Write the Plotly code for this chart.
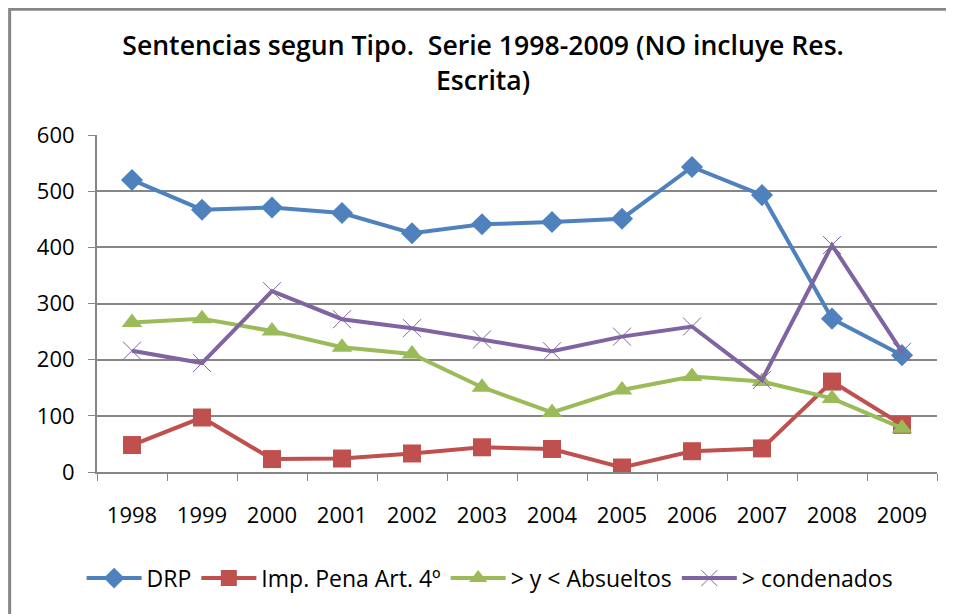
import plotly.graph_objects as go

years = ["1998", "1999", "2000", "2001", "2002", "2003", "2004", "2005", "2006", "2007", "2008", "2009"]
drp = [520, 467, 471, 461, 425, 441, 445, 451, 543, 493, 273, 208]
imp_pena = [48, 97, 23, 24, 33, 44, 41, 8, 37, 42, 161, 84]
absueltos = [266, 273, 251, 222, 210, 151, 106, 146, 170, 161, 131, 78]
condenados = [216, 194, 322, 272, 256, 236, 215, 241, 259, 164, 404, 214]

FONT = "Open Sans"
GRID = "#868686"

fig = go.Figure()
fig.add_trace(go.Scatter(x=years, y=drp, name="DRP", mode="lines+markers",
                         line=dict(color="#4F81BD", width=4),
                         marker=dict(symbol="diamond", size=17, color="#4F81BD")))
fig.add_trace(go.Scatter(x=years, y=imp_pena, name="Imp. Pena Art. 4º", mode="lines+markers",
                         line=dict(color="#C0504D", width=4),
                         marker=dict(symbol="square", size=18, color="#C0504D")))
fig.add_trace(go.Scatter(x=years, y=absueltos, name="> y < Absueltos", mode="lines+markers",
                         line=dict(color="#9BBB59", width=4),
                         marker=dict(symbol="triangle-up", size=18, color="#9BBB59")))
fig.add_trace(go.Scatter(x=years, y=condenados, name="> condenados", mode="lines+markers",
                         line=dict(color="#8064A2", width=4),
                         marker=dict(symbol="x-thin-open", size=18,
                                     line=dict(color="#8064A2", width=1))))

fig.update_layout(
    width=954, height=614,
    margin=dict(l=89, r=25, t=127, b=150),
    paper_bgcolor="white", plot_bgcolor="white",
    font=dict(family=FONT, color="black"),
    title=dict(text="Sentencias segun Tipo.  Serie 1998-2009 (NO incluye Res.<br>Escrita)",
               x=0.498, xanchor="center", y=1 - 47 / 614, yanchor="top",
               font=dict(family=FONT, size=26.6, color="black", weight=600)),
    showlegend=True,
    legend=dict(orientation="h", x=0.468, xanchor="center", y=-0.315, yanchor="middle",
                font=dict(family=FONT, size=23, color="black"),
                itemwidth=55, tracegroupgap=0),
    xaxis=dict(type="category", range=[-0.5, 11.5], tickson="boundaries",
               ticks="outside", ticklen=7, tickcolor=GRID,
               showline=True, linecolor=GRID, linewidth=2,
               showgrid=False, ticklabelstandoff=23,
               tickfont=dict(family=FONT, size=22)),
    yaxis=dict(range=[0, 600], dtick=100, ticks="outside", ticklen=7, tickcolor=GRID,
               showline=True, linecolor=GRID, linewidth=2,
               showgrid=True, gridcolor=GRID, gridwidth=1.5,
               zeroline=False, ticklabelstandoff=9,
               tickfont=dict(family=FONT, size=22)),
    shapes=[dict(type="path", xref="paper", yref="paper",
                 path="M -0.104 -0.5 L -0.104 1.373 L 1.2 1.373",
                 line=dict(color=GRID, width=3))],
)

fig.write_html("out.html")
